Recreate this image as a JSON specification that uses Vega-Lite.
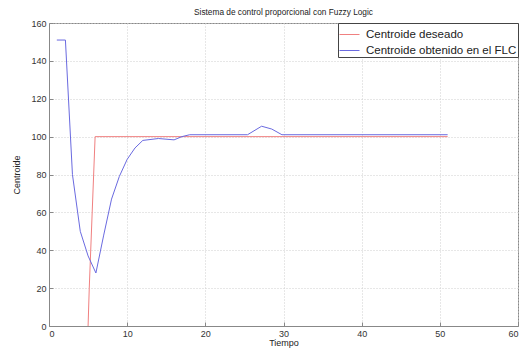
{
  "$schema": "https://vega.github.io/schema/vega-lite/v6.json",
  "autosize": "none",
  "width": 469,
  "height": 303,
  "padding": {"left": 49, "top": 23, "right": 5, "bottom": 25},
  "background": "white",
  "title": {"text": "Sistema de control proporcional con Fuzzy Logic", "font": "Liberation Sans", "fontSize": 8.3, "fontWeight": "normal", "color": "#222", "offset": 3},
  "config": {
    "view": {"stroke": "#888", "strokeWidth": 1},
    "axis": {"labelFont": "Liberation Sans", "labelFontSize": 9, "labelColor": "#333", "titleFont": "Liberation Sans", "titleFontSize": 9, "titleFontWeight": "normal", "titleColor": "#222", "domainColor": "#888", "tickColor": "#888", "tickSize": -4, "gridColor": "#cfcfcf", "gridDash": [1, 2], "gridWidth": 1}
  },
  "data": {"values": [
    {"t": 5.0, "v": 0, "s": "Centroide deseado"},
    {"t": 5.15, "v": 20, "s": "Centroide deseado"},
    {"t": 5.9, "v": 100, "s": "Centroide deseado"},
    {"t": 51, "v": 100, "s": "Centroide deseado"},
    {"t": 1, "v": 151, "s": "Centroide obtenido en el FLC"},
    {"t": 2.1, "v": 151, "s": "Centroide obtenido en el FLC"},
    {"t": 3, "v": 80, "s": "Centroide obtenido en el FLC"},
    {"t": 4, "v": 50, "s": "Centroide obtenido en el FLC"},
    {"t": 5, "v": 37, "s": "Centroide obtenido en el FLC"},
    {"t": 6, "v": 28, "s": "Centroide obtenido en el FLC"},
    {"t": 7, "v": 48, "s": "Centroide obtenido en el FLC"},
    {"t": 8, "v": 67, "s": "Centroide obtenido en el FLC"},
    {"t": 9, "v": 79, "s": "Centroide obtenido en el FLC"},
    {"t": 10, "v": 88, "s": "Centroide obtenido en el FLC"},
    {"t": 11, "v": 94, "s": "Centroide obtenido en el FLC"},
    {"t": 12, "v": 98, "s": "Centroide obtenido en el FLC"},
    {"t": 14, "v": 99, "s": "Centroide obtenido en el FLC"},
    {"t": 16, "v": 98.3, "s": "Centroide obtenido en el FLC"},
    {"t": 17, "v": 100, "s": "Centroide obtenido en el FLC"},
    {"t": 18, "v": 101, "s": "Centroide obtenido en el FLC"},
    {"t": 25.4, "v": 101, "s": "Centroide obtenido en el FLC"},
    {"t": 27.2, "v": 105.5, "s": "Centroide obtenido en el FLC"},
    {"t": 28.5, "v": 104, "s": "Centroide obtenido en el FLC"},
    {"t": 29.8, "v": 101, "s": "Centroide obtenido en el FLC"},
    {"t": 51, "v": 101, "s": "Centroide obtenido en el FLC"}
  ]},
  "mark": {"type": "line", "strokeWidth": 1},
  "encoding": {
    "x": {"field": "t", "type": "quantitative", "scale": {"domain": [0, 60], "nice": false}, "axis": {"values": [0, 10, 20, 30, 40, 50, 60], "title": "Tiempo", "titlePadding": 0, "labelPadding": 7}},
    "y": {"field": "v", "type": "quantitative", "scale": {"domain": [0, 160], "nice": false}, "axis": {"values": [0, 20, 40, 60, 80, 100, 120, 140, 160], "title": "Centroide", "titlePadding": 9, "labelPadding": 7}},
    "color": {"field": "s", "type": "nominal", "scale": {"domain": ["Centroide deseado", "Centroide obtenido en el FLC"], "range": ["#f08080", "#6a6ae0"]}, "legend": {"title": null, "orient": "top-right", "offset": 0, "strokeColor": "#444", "fillColor": "white", "padding": 1, "symbolType": "stroke", "symbolSize": 400, "symbolStrokeWidth": 1, "labelFont": "Liberation Sans", "labelFontSize": 11.5, "labelColor": "#222", "rowPadding": -4, "labelOffset": 6}},
    "order": {"field": "t", "type": "quantitative"}
  }
}
